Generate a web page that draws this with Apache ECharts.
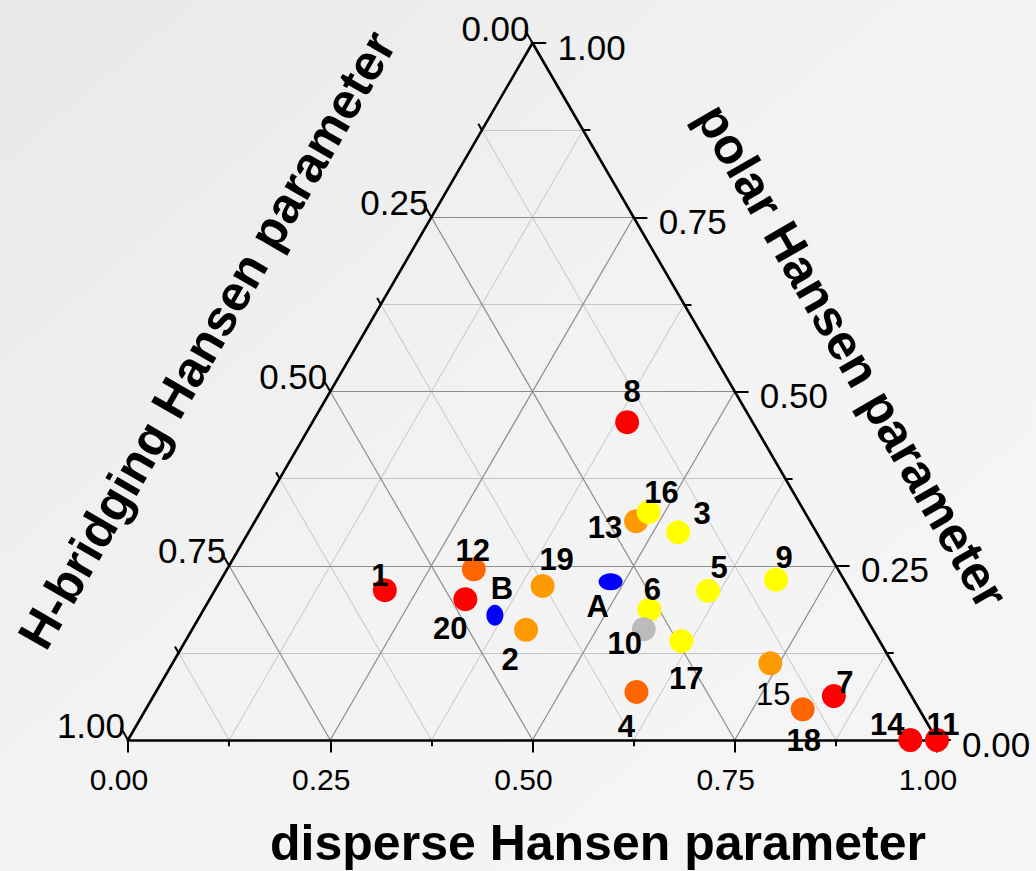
<!DOCTYPE html>
<html>
<head>
<meta charset="utf-8">
<title>Hansen parameter ternary diagram</title>
<script src="https://cdn.jsdelivr.net/npm/echarts@6/dist/echarts.min.js"></script>
<style>
  html, body { margin: 0; padding: 0; }
  #chart { width: 1036px; height: 871px; }
</style>
</head>
<body>
<div id="chart"></div>
<script>
// ---- Sample compositions (fractions of the three Hansen parameters) ----
const sampleNames = ['1', '2', '3', '4', '5', '6', '7', '8', '9', '10', '11',
                     '12', '13', '14', '15', '16', '17', '18', '19', '20', 'A', 'B'];
const disperse  = [0.210, 0.413, 0.531, 0.594, 0.610, 0.551, 0.841, 0.389, 0.686, 0.558, 1.000,
                   0.305, 0.471, 0.967, 0.739, 0.480, 0.613, 0.812, 0.402, 0.316, 0.483, 0.364];
const polar     = [0.215, 0.158, 0.298, 0.069, 0.214, 0.187, 0.063, 0.456, 0.230, 0.159, 0.000,
                   0.245, 0.314, 0.000, 0.110, 0.327, 0.142, 0.044, 0.221, 0.202, 0.227, 0.179];
const hBridging = [0.575, 0.429, 0.171, 0.337, 0.176, 0.262, 0.096, 0.155, 0.084, 0.283, 0.000,
                   0.450, 0.215, 0.033, 0.151, 0.193, 0.245, 0.144, 0.377, 0.482, 0.290, 0.457];
// class of each sample (colour key below)
const sampleClass = ['c1', 'c3', 'c4', 'c2', 'c4', 'c4', 'c1', 'c1', 'c4', 'c5', 'c1',
                     'c2', 'c3', 'c1', 'c3', 'c4', 'c4', 'c2', 'c3', 'c1', 'ref', 'ref'];

// ---- Axis ticks ----
const tickValues = [0, 0.125, 0.25, 0.375, 0.5, 0.625, 0.75, 0.875, 1];
const labelValues = [0, 0.25, 0.5, 0.75, 1];
const labelTexts = ['0.00', '0.25', '0.50', '0.75', '1.00'];
const gridValues = [0.125, 0.25, 0.375, 0.5, 0.625, 0.75, 0.875];

// ---- Styling ----
const FONT = '"Liberation Sans", Arial, Helvetica, sans-serif';
const classColor = { c1: '#ff0000', c2: '#ff6600', c3: '#ff9900', c4: '#ffff00', c5: '#bbbbbb', ref: '#0000ff' };
const ellipseSize = { A: [24, 17], B: [17, 21] };
const labelOffset = {
  '1': [-5, -15], '2': [-16, 30], '3': [24, -19], '4': [-10, 35], '5': [11, -23],
  '6': [3, -20], '7': [11, -14], '8': [5, -31], '9': [8, -22], '10': [-19, 14],
  '11': [6, -16], '12': [-1, -19], '13': [-31, 6], '14': [-23, -16], '15': [3, 31],
  '16': [13, -20], '17': [5, 37], '18': [1, 31], '19': [14, -26], '20': [-15, 29],
  'A': [-13, 25], 'B': [7, -27]
};
const plainLabels = { '15': true };

// ternary (disperse, polar) -> cartesian position inside the triangle
const toXY = (d, p) => [d + p / 2, p];

// ---- Grid lines ----
function gridSegments(major) {
  const segs = [];
  gridValues.forEach(v => {
    const isMajor = Math.abs(v * 4 - Math.round(v * 4)) < 1e-9;
    if (isMajor !== major) return;
    segs.push({ coords: [toXY(v, 0), toXY(v, 1 - v)] });          // constant disperse
    segs.push({ coords: [toXY(0, v), toXY(1 - v, v)] });          // constant polar
    segs.push({ coords: [toXY(0, 1 - v), toXY(1 - v, 0)] });      // constant H-bridging
  });
  return segs;
}

const edgeSegments = [
  { coords: [toXY(0, 0), toXY(1, 0)] },
  { coords: [toXY(1, 0), toXY(0, 1)] },
  { coords: [toXY(0, 1), toXY(0, 0)] }
];

// tick marks extend each family of grid lines outside the triangle
function tickSegments() {
  const segs = [];
  tickValues.forEach(v => {
    const major = Math.abs(v * 4 - Math.round(v * 4)) < 1e-9;
    const t = major ? 0.018 : 0.009;
    const tr = major ? 0.017 : 0.009;
    // bottom (disperse): extend to negative polar
    segs.push({ coords: [toXY(v, 0), toXY(v + t / 2, -t)] });
    // right (polar): horizontal to the right
    const e = toXY(1 - v, v);
    segs.push({ coords: [e, [e[0] + tr, e[1]]] });
    // left (H-bridging): extend to negative disperse
    segs.push({ coords: [toXY(0, 1 - v), toXY(-t, 1 - v + t)] });
  });
  return segs;
}

// ---- Tick labels ----
const bottomLabels = labelValues.map((v, i) => ({
  value: toXY(v, 0), label: { formatter: labelTexts[i], offset: [-9, 39] }
}));
const rightLabels = labelValues.map((v, i) => ({
  value: toXY(1 - v, v), label: { formatter: labelTexts[i], offset: [25, 4], align: 'left' }
}));
const leftLabels = labelValues.map((v, i) => ({
  value: toXY(0, 1 - v), label: { formatter: labelTexts[i], offset: [-3, -15], align: 'right' }
}));

// ---- Sample points ----
const samplePoints = sampleNames.map((name, i) => {
  const item = {
    name: name,
    value: toXY(disperse[i], polar[i]),
    itemStyle: { color: classColor[sampleClass[i]], opacity: 1 },
    label: {
      formatter: name,
      offset: labelOffset[name],
      fontWeight: plainLabels[name] ? 'normal' : 'bold'
    }
  };
  if (ellipseSize[name]) item.symbolSize = ellipseSize[name];
  return item;
});

const chart = echarts.init(document.getElementById('chart'), null, { renderer: 'svg' });

const tickLabelSeries = (data, size) => ({
  type: 'scatter',
  data: data,
  symbolSize: 1,
  itemStyle: { color: 'rgba(0,0,0,0)', opacity: 1 },
  silent: true,
  clip: false,
  z: 6,
  label: {
    show: true, position: 'inside', color: '#000',
    fontFamily: FONT, fontSize: size, fontWeight: 'normal',
    verticalAlign: 'middle'
  }
});

chart.setOption({
  animation: false,
  backgroundColor: {
    type: 'linear', x: 0, y: 0, x2: 1, y2: 1,
    colorStops: [
      { offset: 0, color: '#e8e8e8' },
      { offset: 0.45, color: '#f2f2f2' },
      { offset: 1, color: '#f6f6f6' }
    ]
  },
  grid: { left: 128, top: 43, width: 809, height: 697 },
  xAxis: { type: 'value', min: 0, max: 1, show: false },
  yAxis: { type: 'value', min: 0, max: 1, show: false },
  graphic: [
    {
      type: 'text', x: 598, y: 843, silent: true,
      style: { text: 'disperse Hansen parameter', font: 'bold 50px ' + FONT,
               fill: '#000', textAlign: 'center', textVerticalAlign: 'middle' }
    },
    {
      type: 'text', x: 207, y: 340, rotation: Math.PI / 3, silent: true,
      style: { text: 'H-bridging Hansen parameter', font: 'bold 50px ' + FONT,
               fill: '#000', textAlign: 'center', textVerticalAlign: 'middle' }
    },
    {
      type: 'text', x: 852, y: 356, rotation: -Math.PI / 3, silent: true,
      style: { text: 'polar Hansen parameter', font: 'bold 50px ' + FONT,
               fill: '#000', textAlign: 'center', textVerticalAlign: 'middle' }
    }
  ],
  series: [
    {
      type: 'lines', coordinateSystem: 'cartesian2d', silent: true, clip: false, z: 1,
      data: gridSegments(false),
      lineStyle: { color: '#c4c4c4', width: 1, opacity: 1 }
    },
    {
      type: 'lines', coordinateSystem: 'cartesian2d', silent: true, clip: false, z: 2,
      data: gridSegments(true),
      lineStyle: { color: '#8c8c8c', width: 1.2, opacity: 1 }
    },
    {
      type: 'lines', coordinateSystem: 'cartesian2d', silent: true, clip: false, z: 3,
      data: tickSegments(),
      lineStyle: { color: '#000', width: 2, opacity: 1 }
    },
    {
      type: 'lines', coordinateSystem: 'cartesian2d', silent: true, clip: false, z: 3,
      data: edgeSegments,
      lineStyle: { color: '#000', width: 2.6, opacity: 1, cap: 'round' }
    },
    tickLabelSeries(bottomLabels, 30),
    tickLabelSeries(rightLabels, 35),
    tickLabelSeries(leftLabels, 35),
    {
      type: 'scatter',
      data: samplePoints,
      symbol: 'circle',
      symbolSize: 24,
      clip: false,
      silent: true,
      z: 5,
      label: {
        show: true, position: 'inside', color: '#000',
        fontFamily: FONT, fontSize: 31, fontWeight: 'bold', verticalAlign: 'middle'
      }
    }
  ]
});
</script>
</body>
</html>
